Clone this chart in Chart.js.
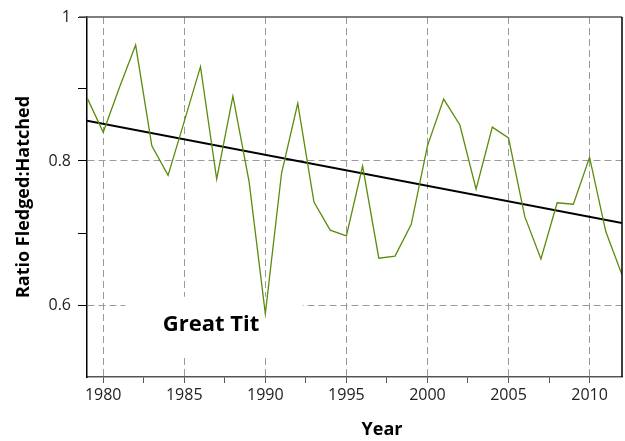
<!DOCTYPE html>
<html>
<head>
<meta charset="utf-8">
<script src="https://cdn.jsdelivr.net/npm/chart.js@4.4.1/dist/chart.umd.min.js"></script>
<style>
  html, body { margin: 0; padding: 0; background: #fff; }
</style>
</head>
<body>
<canvas id="titChart" width="625" height="441"></canvas>
<script>
// Breeding success of the Great Tit, one value per year
const years = [1979, 1980, 1981, 1982, 1983, 1984, 1985, 1986, 1987, 1988,
               1989, 1990, 1991, 1992, 1993, 1994, 1995, 1996, 1997, 1998,
               1999, 2000, 2001, 2002, 2003, 2004, 2005, 2006, 2007, 2008,
               2009, 2010, 2011, 2012];
const ratio = [0.888, 0.840, 0.902, 0.961, 0.821, 0.780, 0.855, 0.931, 0.775, 0.890,
               0.771, 0.588, 0.783, 0.880, 0.743, 0.704, 0.696, 0.793, 0.665, 0.668,
               0.712, 0.821, 0.886, 0.850, 0.761, 0.847, 0.832, 0.723, 0.664, 0.742,
               0.740, 0.805, 0.702, 0.642];

// linear trend, ends only
const trendYears = [1979, 2012];
const trendValues = [0.856, 0.714];

const xMajorTicks = [1980, 1985, 1990, 1995, 2000, 2005, 2010];
const xMinorTicks = [1982.5, 1987.5, 1992.5, 1997.5, 2002.5, 2007.5];
const yMajorTicks = [0.6, 0.8, 1];
const yMinorTicks = [0.7, 0.9];

const FONT = '"Open Sans", "DejaVu Sans", sans-serif';
const GRID = '#9a9a9a';

// white box with the species name, grid lines stop around it
const annotate = {
    id: 'annotate',
    beforeDatasetsDraw(chart) {
        const { ctx, scales: { x, y } } = chart;
        const left = x.getPixelForValue(1981.35), right = x.getPixelForValue(1992.3);
        const top = y.getPixelForValue(0.6115), bottom = y.getPixelForValue(0.531);
        ctx.save();
        ctx.fillStyle = '#fff';
        ctx.fillRect(left, top, right - left, bottom - top);
        ctx.fillStyle = '#000';
        ctx.font = 'bold 22px ' + FONT;
        ctx.textAlign = 'center';
        ctx.textBaseline = 'middle';
        ctx.fillText('Great Tit', x.getPixelForValue(1986.65), y.getPixelForValue(0.5725));
        ctx.restore();
    },
    afterDraw(chart) {
        const { ctx, chartArea: a } = chart;
        ctx.save();
        // top frame line and right frame line
        ctx.strokeStyle = '#555';
        ctx.lineWidth = 1.5;
        ctx.beginPath();
        ctx.moveTo(a.left - 8, a.top);
        ctx.lineTo(a.right, a.top);
        ctx.stroke();
        ctx.strokeStyle = '#000';
        ctx.beginPath();
        ctx.moveTo(a.right, a.top);
        ctx.lineTo(a.right, a.bottom);
        ctx.stroke();
        // axis titles
        ctx.fillStyle = '#000';
        ctx.font = 'bold 18px ' + FONT;
        ctx.textAlign = 'center';
        ctx.textBaseline = 'middle';
        ctx.fillText('Year', 382, 430);
        ctx.translate(24, (a.top + a.bottom) / 2);
        ctx.rotate(-Math.PI / 2);
        ctx.fillText('Ratio Fledged:Hatched', 0, 0);
        ctx.restore();
    }
};

const ctxTit = document.getElementById('titChart').getContext('2d');
const titChart = new Chart(ctxTit, {
    type: 'line',
    data: {
        datasets: [
            {
                label: 'Ratio',
                data: years.map((yr, i) => ({ x: yr, y: ratio[i] })),
                borderColor: '#5a8c0c',
                borderWidth: 1.3,
                pointRadius: 0,
                tension: 0
            },
            {
                label: 'Trend',
                data: trendYears.map((yr, i) => ({ x: yr, y: trendValues[i] })),
                borderColor: '#000',
                borderWidth: 2,
                pointRadius: 0
            }
        ]
    },
    options: {
        responsive: false,
        animation: false,
        layout: { padding: { top: 17, right: 3, left: 0, bottom: 0 } },
        scales: {
            x: {
                type: 'linear',
                min: 1979,
                max: 2012,
                afterBuildTicks: s => {
                    s.ticks = [...xMajorTicks, ...xMinorTicks].sort((a, b) => a - b).map(v => ({ value: v }));
                },
                afterFit: s => { s.height = 64; },
                ticks: {
                    autoSkip: false,
                    maxRotation: 0,
                    padding: 3,
                    color: '#222',
                    font: { family: FONT, size: 16 },
                    callback: v => xMajorTicks.includes(v) ? String(v) : ''
                },
                grid: {
                    color: c => (c.tick && xMajorTicks.includes(c.tick.value)) ? GRID : 'transparent',
                    tickColor: '#555',
                    tickLength: 6,
                    lineWidth: 1
                },
                border: { color: '#555', width: 1.5, dash: [7, 4] }
            },
            y: {
                min: 0.5,
                max: 1,
                afterBuildTicks: s => {
                    s.ticks = [...yMajorTicks, ...yMinorTicks].sort((a, b) => a - b).map(v => ({ value: v }));
                },
                afterFit: s => { s.width = 87; },
                ticks: {
                    padding: 7,
                    color: '#222',
                    font: { family: FONT, size: 16 },
                    callback: v => v === 1 ? '1' : (yMajorTicks.includes(v) ? v.toFixed(1) : '')
                },
                grid: {
                    color: c => (c.tick && yMajorTicks.includes(c.tick.value) && c.tick.value !== 1) ? GRID : 'transparent',
                    tickColor: '#000',
                    tickLength: 9,
                    lineWidth: 1
                },
                border: { color: '#000', width: 1.5, dash: [7, 4] }
            }
        },
        plugins: {
            legend: { display: false },
            tooltip: { enabled: false }
        }
    },
    plugins: [annotate]
});
</script>
</body>
</html>
